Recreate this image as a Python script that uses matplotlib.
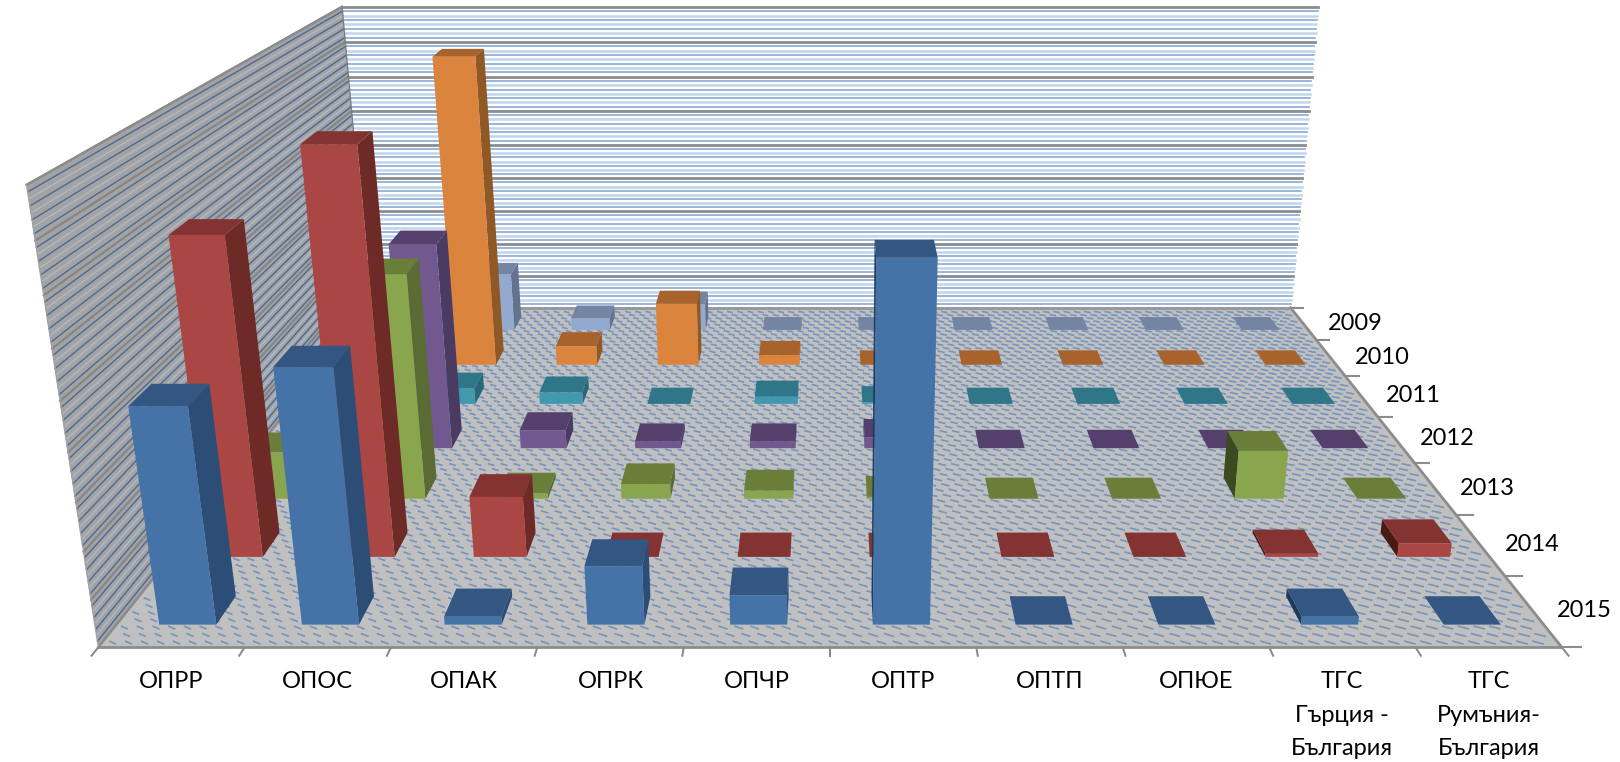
import matplotlib
matplotlib.use('Agg')
import matplotlib.pyplot as plt
import numpy as np
from mpl_toolkits.mplot3d import proj3d
from mpl_toolkits.mplot3d.art3d import Poly3DCollection, Line3DCollection

programmes = ['ОПРР', 'ОПОС', 'ОПАК', 'ОПРК', 'ОПЧР', 'ОПТР', 'ОПТП', 'ОПЮЕ',
              'ТГС\nГърция -\nБългария', 'ТГС\nРумъния-\nБългария']
years = ['2015', '2014', '2013', '2012', '2011', '2010', '2009']

# values, as percent of the top of the axis
v2015 = [50.6, 59.2, 1.9, 14.0, 7.1, 82.5, 0, 0, 1.9, 0]
v2014 = [78.0, 98.2, 15.3, 0, 0, 0, 0, 0, 0.8, 3.5]
v2013 = [12.6, 59.0, 1.4, 4.0, 2.2, 0.5, 0, 0, 13.0, 0]
v2012 = [0, 57.0, 5.2, 1.9, 1.9, 3.2, 0, 0, 0, 0]
v2011 = [0, 4.7, 3.5, 0, 2.2, 0.5, 0, 0, 0, 0]
v2010 = [27.0, 94.0, 6.0, 19.5, 3.1, 0, 0, 0, 0, 0]
v2009 = [0, 18.6, 4.0, 8.8, 0, 0, 0, 0, 0, 0]
rows = [v2015, v2014, v2013, v2012, v2011, v2010, v2009]

# front, top, side (towards centre), side (outer, darker) per year
palette = {
    '2015': ['#4573A7', '#335682', '#2C4D75', '#1D3A5C'],
    '2014': ['#AA4643', '#833331', '#6D2A27', '#4A1A17'],
    '2013': ['#89A54E', '#6A7E3A', '#5A6B33', '#3B4A1F'],
    '2012': ['#71588F', '#553F6D', '#4A3B63', '#33264A'],
    '2011': ['#4198AF', '#2F7689', '#2A6778', '#1F4E5C'],
    '2010': ['#DB843D', '#A8622B', '#8F5825', '#6E421C'],
    '2009': ['#93A9CF', '#7385A2', '#62728F', '#4C5870'],
}

XMAX = 10
DEPTH = 7
ZMAX = 100
BOX = (XMAX, 6.96, 3.27)
WIDTH = 0.4
CENTER = XMAX / 2

fig = plt.figure(figsize=(16.2, 7.62), dpi=100)
# the axes is much larger than the figure so nothing gets clipped at its edge
S = 2868
left = 830 - 0.5135 * S
bottom = 762 - (263 + 0.5135 * S)
ax = fig.add_axes([left / 1620, bottom / 762, S / 1620, S / 762], projection='3d')
ax.computed_zorder = False
ax.set_box_aspect(BOX, zoom=0.5)
ax.view_init(elev=17.9, azim=-90)
ax.set_proj_type('persp', focal_length=0.1062)
ax.set_axis_off()
ax.patch.set_alpha(0)

# walls and floor
floor = [[(0, 0, 0), (XMAX, 0, 0), (XMAX, DEPTH, 0), (0, DEPTH, 0)]]
side = [[(0, 0, 0), (0, DEPTH, 0), (0, DEPTH, ZMAX), (0, 0, ZMAX)]]
back = [[(0, DEPTH, 0), (XMAX, DEPTH, 0), (XMAX, DEPTH, ZMAX), (0, DEPTH, ZMAX)]]
ax.add_collection3d(Poly3DCollection(floor, facecolor='#C0C0C0', edgecolor='none', zorder=1))
ax.add_collection3d(Poly3DCollection(side, facecolor='#A3A3A3', edgecolor='none', zorder=1))
ax.add_collection3d(Poly3DCollection(back, facecolor='white', edgecolor='none', zorder=1))

# gridlines on the walls: 9 major steps, 8 minor in each
levels = np.linspace(0, ZMAX, 9 * 8 + 1)
for k, z in enumerate(levels):
    if k % 8 == 0:
        ax.plot([0, XMAX], [DEPTH, DEPTH], [z, z], color='#8C8C8C', lw=2.0, zorder=3)
        ax.plot([0, 0], [0, DEPTH], [z, z], color='#868686', lw=1.6, zorder=3)
    elif k % 2:
        ax.plot([0, XMAX], [DEPTH, DEPTH], [z, z], color='#86AAD8', lw=1.2, zorder=2)
        ax.plot([0, 0], [0, DEPTH], [z, z], color='#4A6A98', lw=1.0, zorder=2)
    else:
        ax.plot([0, XMAX], [DEPTH, DEPTH], [z, z], color='#C3D5EB', lw=1.8, zorder=2)
        ax.plot([0, 0], [0, DEPTH], [z, z], color='#AEB8C4', lw=1.1, zorder=2)

# the floor's dashed texture
dashes = []
for j, y in enumerate(np.arange(0.06, DEPTH, 1 / 10)):
    start = 0.04 + 0.055 * (j % 2)
    for x in np.arange(start, XMAX - 0.07, 0.11):
        dashes.append([(x, y + 0.02, 0), (x + 0.065, y - 0.02, 0)])
ax.add_collection3d(Line3DCollection(dashes, colors='#7594BE', linewidths=1.2, zorder=2))

# axis edges and ticks
ax.plot([0, XMAX], [0, 0], [0, 0], color='#8C8C8C', lw=2, zorder=4)
ax.plot([XMAX, XMAX], [0, DEPTH], [0, 0], color='#8C8C8C', lw=2, zorder=4)
ax.plot([0, XMAX], [DEPTH, DEPTH], [0, 0], color='#9A9A9A', lw=2, zorder=4)
ax.plot([0, 0], [0, DEPTH], [0, 0], color='#8C8C8C', lw=1.5, zorder=4)
ax.plot([0, 0], [DEPTH, DEPTH], [0, ZMAX], color='#7F7F7F', lw=1, zorder=4)
ax.plot([0, 0], [0, DEPTH], [ZMAX, ZMAX], color='#8C8C8C', lw=1.6, zorder=4)
ax.plot([0, 0], [0, 0], [0, ZMAX], color='#A0A0A0', lw=1, zorder=4)
for i in range(11):
    ax.plot([i, i], [0, -0.11], [0, 0], color='#8C8C8C', lw=1.5, zorder=4)
for j in range(DEPTH + 1):
    ax.plot([XMAX, XMAX + 0.13], [j, j], [0, 0], color='#8C8C8C', lw=1.5, zorder=4)

# bars: back row first, in each row from the outside towards the centre
order = 10
for j in range(DEPTH - 1, -1, -1):
    front, top, inner, outer = palette[years[j]]
    cols = sorted(range(len(programmes)), key=lambda i: -abs(i + 0.5 - CENTER))
    for i in cols:
        # faces: bottom, top, front, back, left side, right side
        if i + 0.5 < CENTER:
            faces = ['none', top, front, 'none', 'none', inner]
        else:
            faces = ['none', top, front, 'none', outer, 'none']
        bar = ax.bar3d(i + 0.5 - WIDTH / 2, j + 0.5 - WIDTH / 2, 0, WIDTH, WIDTH, rows[j][i],
                       color=faces, shade=False, edgecolor='none', linewidth=0)
        bar.set_zorder(order)
        order += 1

ax.set_xlim(0, XMAX, view_margin=0)
ax.set_ylim(0, DEPTH, view_margin=0)
ax.set_zlim(0, ZMAX, view_margin=0)

# tick labels sit at a fixed distance from the axis
M = ax.get_proj()
font = ['Lato', 'Open Sans']
for i, name in enumerate(programmes):
    px, py, _ = proj3d.proj_transform(i + 0.5, 0, 0, M)
    ax.annotate(name, xy=(px, py), xytext=(0, -17), textcoords='offset points',
                ha='center', va='top', fontsize=17, family=font, linespacing=1.75,
                annotation_clip=False, zorder=500)
for j, year in enumerate(years):
    px, py, _ = proj3d.proj_transform(XMAX, j + 0.5, 0, M)
    ax.annotate(year, xy=(px, py), xytext=(18, 0), textcoords='offset points',
                ha='left', va='center', fontsize=17, family=font,
                annotation_clip=False, zorder=500)

fig.savefig('out.png', dpi=100)
